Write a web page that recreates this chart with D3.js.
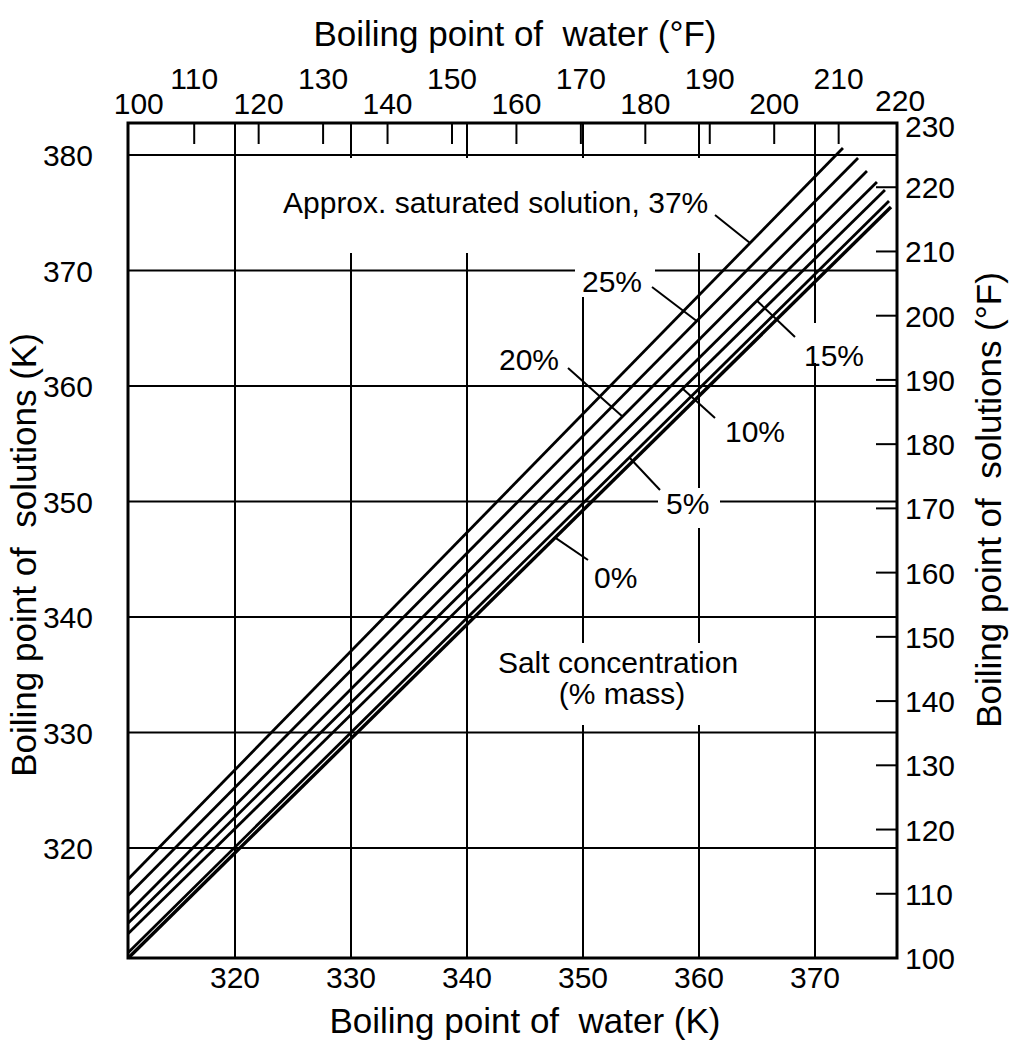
<!DOCTYPE html>
<html><head><meta charset="utf-8">
<script src="https://cdn.jsdelivr.net/npm/d3@7"></script>
<style>
body{margin:0;background:#fff}
svg{display:block}
text{font-family:"Liberation Sans",Arial,Helvetica,sans-serif;fill:#000}
</style>
</head><body>
<svg id="c" width="1016" height="1042"></svg>
<script>
// ---- data ----
const concentrations   = ["0%", "5%", "10%", "15%", "20%", "25%", "37%"];
const waterStartK      = [310.8, 310.8, 310.8, 310.8, 310.8, 310.8, 310.8];
const solutionStartK   = [310.48, 310.95, 312.6, 313.5, 314.4, 315.9, 317.32];
const waterEndK        = [376.55, 376.38, 376.03, 375.34, 374.48, 373.71, 372.41];
const solutionEndK     = [375.5, 376.02, 376.97, 377.66, 378.61, 379.74, 380.61];

const kTicksX     = [320, 330, 340, 350, 360, 370];
const kTicksY     = [320, 330, 340, 350, 360, 370, 380];
const fTicksTop   = [100, 110, 120, 130, 140, 150, 160, 170, 180, 190, 200, 210, 220];
const fTicksRight = [100, 110, 120, 130, 140, 150, 160, 170, 180, 190, 200, 210, 220, 230];

const labelTexts    = ["0%", "5%", "10%", "15%", "20%", "25%", "Approx. saturated solution, 37%"];
const pointerWaterK = [347.6, 354.0, 358.6, 365.0, 353.4, 359.8, 364.4];

// ---- layout ----
const frame = {left: 128, right: 897, top: 123, bottom: 958};
const FtoK = f => (f - 32) * 5 / 9 + 273.15;

const svg = d3.select("#c");
const x  = d3.scaleLinear().domain([320, 370]).range([235, 815]);
const y  = d3.scaleLinear().domain([320, 380]).range([848, 155]);
const yF = d3.scaleLinear().domain([100, 230]).range([frame.bottom, frame.top]);

const FS = 30;   // tick labels
const AS = 30;   // annotations
const TS = 35;   // axis titles

// grid lines
const g = svg.append("g").attr("stroke", "#000").attr("stroke-width", 2);
g.selectAll("line.v").data(kTicksX).join("line")
  .attr("x1", d => x(d)).attr("x2", d => x(d))
  .attr("y1", frame.bottom).attr("y2", frame.top);
g.selectAll("line.h").data(kTicksY).join("line")
  .attr("y1", d => y(d)).attr("y2", d => y(d))
  .attr("x1", frame.left).attr("x2", frame.right);

// top °F ticks (inside frame)
g.selectAll("line.tt").data(fTicksTop.slice(1, -1)).join("line")
  .attr("x1", d => x(FtoK(d))).attr("x2", d => x(FtoK(d)))
  .attr("y1", frame.top).attr("y2", frame.top + 21);
// right °F ticks (inside frame)
g.selectAll("line.rt").data(fTicksRight.slice(1, -1)).join("line")
  .attr("y1", d => yF(d)).attr("y2", d => yF(d))
  .attr("x1", frame.right - 21).attr("x2", frame.right);

// label knock-out boxes (white behind labels)
const knock = [[278,158,712,253],[575,253,655,297],[798,323,874,363],[658,488,720,528],[495,643,745,725]];
svg.append("g").selectAll("rect").data(knock).join("rect")
  .attr("x", d => d[0]).attr("y", d => d[1])
  .attr("width", d => d[2]-d[0]).attr("height", d => d[3]-d[1])
  .attr("fill", "#fff");

// frame
svg.append("rect").attr("x", frame.left).attr("y", frame.top)
  .attr("width", frame.right - frame.left).attr("height", frame.bottom - frame.top)
  .attr("fill", "none").attr("stroke", "#000").attr("stroke-width", 3);

// data lines
const lineData = concentrations.map((c, i) => ({
  c, pts: [[waterStartK[i], solutionStartK[i]], [waterEndK[i], solutionEndK[i]]]
}));
const lineGen = d3.line().x(d => x(d[0])).y(d => y(d[1]));
svg.append("g").selectAll("path").data(lineData).join("path")
  .attr("d", d => lineGen(d.pts))
  .attr("fill", "none").attr("stroke", "#000")
  .attr("stroke-width", (d, i) => i === 0 ? 3.4 : 2.8);

function solAt(i, wk) {
  const t = (wk - waterStartK[i]) / (waterEndK[i] - waterStartK[i]);
  return solutionStartK[i] + t * (solutionEndK[i] - solutionStartK[i]);
}

// annotation labels + pointers
const ann = [
  {tx: 594, ty: 588, px: 588, py: 560},
  {tx: 666, ty: 514, px: 660, py: 490},
  {tx: 725, ty: 442, px: 715, py: 418},
  {tx: 804, ty: 366, px: 795, py: 337},
  {tx: 499, ty: 370, px: 568, py: 368},
  {tx: 582, ty: 292, px: 652, py: 287},
  {tx: 283, ty: 213, px: 715, py: 215}
];
const ag = svg.append("g");
ann.forEach((a, i) => {
  ag.append("text").attr("x", a.tx).attr("y", a.ty).attr("font-size", AS).text(labelTexts[i]);
  ag.append("line").attr("x1", a.px).attr("y1", a.py)
    .attr("x2", x(pointerWaterK[i])).attr("y2", y(solAt(i, pointerWaterK[i])))
    .attr("stroke", "#000").attr("stroke-width", 2);
});
ag.append("text").attr("x", 618).attr("y", 673).attr("text-anchor", "middle").attr("font-size", AS).text("Salt concentration");
ag.append("text").attr("x", 622).attr("y", 704).attr("text-anchor", "middle").attr("font-size", AS).text("(% mass)");

// tick labels
const tl = svg.append("g").attr("font-size", FS);
tl.selectAll("text.l").data(kTicksY).join("text")
  .attr("x", 93).attr("y", d => y(d) + 11).attr("text-anchor", "end").text(d => d);
tl.selectAll("text.b").data(kTicksX).join("text")
  .attr("x", d => x(d)).attr("y", 988).attr("text-anchor", "middle").text(d => d);
tl.selectAll("text.t").data(fTicksTop).join("text")
  .attr("x", (d, i) => i === 0 ? x(FtoK(d)) + 9 : (i === fTicksTop.length - 1 ? x(FtoK(d)) - 3 : x(FtoK(d))))
  .attr("y", (d, i) => i % 2 === 0 ? (i === fTicksTop.length - 1 ? 111 : 114) : 89)
  .attr("text-anchor", "middle").text(d => d);
tl.selectAll("text.r").data(fTicksRight).join("text")
  .attr("x", 905).attr("y", (d, i) => yF(d) + 11 + (i === fTicksRight.length - 1 ? 3 : 0))
  .attr("text-anchor", "start").text(d => d);

// axis titles
svg.append("text").attr("x", 515).attr("y", 46).attr("text-anchor", "middle").attr("font-size", TS)
  .text("Boiling point of\u00a0 water (°F)");
svg.append("text").attr("x", 525).attr("y", 1033).attr("text-anchor", "middle").attr("font-size", TS)
  .text("Boiling point of\u00a0 water (K)");
svg.append("text").attr("transform", "translate(36,555) rotate(-90)").attr("text-anchor", "middle").attr("font-size", TS)
  .text("Boiling point of\u00a0 solutions (K)");
svg.append("text").attr("transform", "translate(1001,500) rotate(-90)").attr("text-anchor", "middle").attr("font-size", TS)
  .text("Boiling point of\u00a0 solutions (°F)");
</script>
</body></html>
